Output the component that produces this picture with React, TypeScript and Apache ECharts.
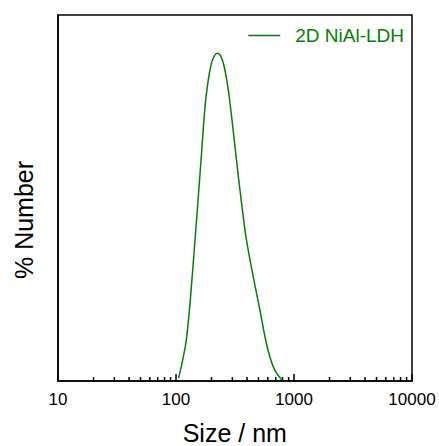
import React, { useEffect, useRef } from "react";
import * as echarts from "echarts";

const seriesName = "2D NiAl-LDH";
const sizesNm = [105.2, 113.1, 122.3, 132.2, 145.8, 160.7, 176.1, 187.8, 199.1, 211.1, 223.8, 237.3, 251.5, 266.7, 282.7, 299.7, 317.8, 338.8, 362.2, 386.2, 411.8, 439.9, 469.3, 514.2, 570.2, 628.4, 692.8, 789.5];
const numberPct = [0.16, 1.04, 2.24, 4.43, 7.92, 11.53, 14.97, 16.45, 17.32, 17.76, 17.91, 17.79, 17.38, 16.61, 15.52, 14.15, 12.68, 11.09, 9.56, 8.14, 7.05, 6.07, 5.14, 3.88, 2.35, 1.26, 0.55, 0.05];
const minorTickValues = [20, 30, 40, 50, 60, 70, 80, 90, 200, 300, 400, 500, 600, 700, 800, 900, 2000, 3000, 4000, 5000, 6000, 7000, 8000, 9000];
const xTitle = "Size / nm";
const yTitle = "% Number";

const FONT = "'Liberation Sans', Arial, sans-serif";
const GREEN = "#008000";

export default function App() {
  const ref = useRef<HTMLDivElement>(null);
  useEffect(() => {
    if (!ref.current) return;
    const chart = echarts.init(ref.current, undefined, { renderer: "svg" });
    const lineData = sizesNm.map((s, i) => [s, numberPct[i]]);
    chart.setOption({
      animation: false,
      backgroundColor: "#ffffff",
      grid: {
        left: 58,
        right: 27,
        top: 15,
        bottom: 65,
        show: true,
        borderColor: "#000",
        borderWidth: 1.5,
        backgroundColor: "transparent",
      },
      legend: {
        data: [{ name: seriesName, icon: "rect" }],
        right: 30,
        top: 21,
        itemWidth: 32,
        itemHeight: 1.5,
        itemGap: 10,
        textStyle: { color: GREEN, fontSize: 19, fontFamily: FONT, padding: [0, 0, 0, 10] },
      },
      xAxis: {
        type: "log",
        logBase: 10,
        min: 10,
        max: 10000,
        axisLine: { show: true, lineStyle: { color: "#000", width: 1.5 } },
        axisTick: { show: true, inside: true, length: 7, lineStyle: { color: "#000", width: 1.5 } },
        minorTick: { show: false },
        splitLine: { show: false },
        axisLabel: {
          color: "#000",
          fontSize: 17,
          fontFamily: FONT,
          margin: 10,
          formatter: (v: number) => String(Math.round(v)),
        },
      },
      yAxis: {
        type: "value",
        min: 0,
        max: 20,
        axisLine: { show: true, lineStyle: { color: "#000", width: 1.5 } },
        axisTick: { show: false },
        axisLabel: { show: false },
        splitLine: { show: false },
      },
      series: [
        {
          name: seriesName,
          type: "line",
          data: lineData,
          smooth: 0.25,
          showSymbol: false,
          symbol: "none",
          lineStyle: { color: GREEN, width: 1.5 },
          itemStyle: { color: GREEN },
        },
        {
          name: "minorTicks",
          type: "custom",
          silent: true,
          clip: false,
          data: minorTickValues.map((v) => [v, 0]),
          encode: { x: 0, y: 1 },
          renderItem: (params: any, api: any) => {
            const p = api.coord([api.value(0), 0]);
            return {
              type: "line",
              shape: { x1: p[0], y1: p[1], x2: p[0], y2: p[1] - 4 },
              style: { stroke: "#000", lineWidth: 1.5 },
            };
          },
        },
      ],
      graphic: [
        {
          type: "text",
          x: 234.75,
          y: 433,
          style: {
            text: xTitle,
            fontSize: 25,
            fontFamily: FONT,
            fill: "#000",
            align: "center",
            verticalAlign: "middle",
          },
        },
        {
          type: "text",
          x: 24,
          y: 220,
          rotation: Math.PI / 2,
          style: {
            text: yTitle,
            fontSize: 25,
            fontFamily: FONT,
            fill: "#000",
            align: "center",
            verticalAlign: "middle",
          },
        },
      ],
    });
    return () => chart.dispose();
  }, []);
  return (
    <div
      ref={ref}
      style={{ position: "fixed", left: 0, top: 0, width: 439, height: 446 }}
    />
  );
}
